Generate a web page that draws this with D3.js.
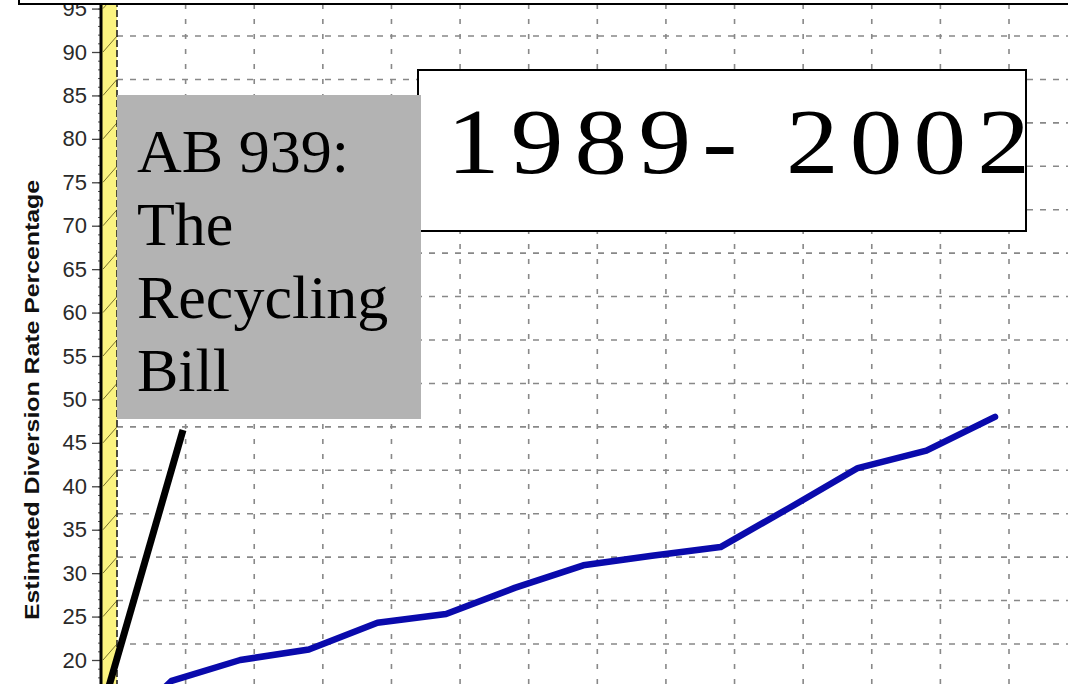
<!DOCTYPE html>
<html>
<head>
<meta charset="utf-8">
<script src="https://cdn.jsdelivr.net/npm/d3@7"></script>
<style>
  html, body { margin: 0; padding: 0; background: #fff; }
  svg { display: block; }
</style>
</head>
<body>
<svg id="chart" width="1068" height="684"></svg>
<script>
// ---- data ----
const years = [1989, 1990, 1991, 1992, 1993, 1994, 1995, 1996, 1997, 1998, 1999, 2000, 2001, 2002];
const diversionRate = [10, 17.6, 20.0, 21.2, 24.3, 25.3, 28.3, 30.9, 32.0, 33.0, 37.5, 42.1, 44.1, 48.0];
const yTicks = [20, 25, 30, 35, 40, 45, 50, 55, 60, 65, 70, 75, 80, 85, 90, 95];
const gridYears = [1990, 1991, 1992, 1993, 1994, 1995, 1996, 1997, 1998, 1999, 2000, 2001, 2002, 2003];
const yAxisTitle = "Estimated Diversion Rate Percentage";
const billLines = ["AB 939:", "The", "Recycling", "Bill"];
const periodLabel = "1989- 2002";

// ---- layout ----
const W = 1068, H = 684;
const svg = d3.select("#chart");
const x = d3.scaleLinear().domain([1989, 2002]).range([103, 995]);
const y = d3.scaleLinear().domain([20, 90]).range([660, 52]);
const depthX = 14, depthY = -16;   // 3D wall offset
const wallX = x(1989) + depthX;

svg.append("rect").attr("width", W).attr("height", H).attr("fill", "#fff");

// back-wall grid
const grid = svg.append("g");
grid.selectAll("line.h").data(yTicks.concat([15])).join("line")
  .attr("x1", wallX).attr("x2", W)
  .attr("y1", d => y(d) + depthY).attr("y2", d => y(d) + depthY)
  .attr("stroke", "#888").attr("stroke-width", 1.6).attr("stroke-dasharray", "6,7");
grid.selectAll("line.v").data(gridYears).join("line")
  .attr("x1", d => x(d) + depthX).attr("x2", d => x(d) + depthX)
  .attr("y1", 4).attr("y2", H)
  .attr("stroke", "#888").attr("stroke-width", 1.6).attr("stroke-dasharray", "5,10");

// side wall (yellow)
svg.append("rect").attr("x", x(1989) - 1).attr("y", 0)
  .attr("width", depthX + 1).attr("height", H).attr("fill", "#fbf380");
svg.append("g").selectAll("line").data(yTicks.concat([15])).join("line")
  .attr("x1", x(1989)).attr("y1", d => y(d))
  .attr("x2", wallX).attr("y2", d => y(d) + depthY)
  .attr("stroke", "#77702a").attr("stroke-width", 1);
svg.append("line").attr("x1", wallX).attr("x2", wallX).attr("y1", 0).attr("y2", H)
  .attr("stroke", "#222").attr("stroke-width", 1.6).attr("stroke-dasharray", "7,3");

// y axis
const axisG = svg.append("g").attr("transform", `translate(${x(1989) - 2},0)`);
axisG.call(d3.axisLeft(y).tickValues(d3.range(15, 96, 1)).tickFormat("").tickSize(3))
  .call(g => g.select(".domain").remove())
  .call(g => g.selectAll("line").attr("stroke", "#555"));
const majorG = svg.append("g").attr("transform", `translate(${x(1989) - 2},0)`);
majorG.call(d3.axisLeft(y).tickValues(yTicks).tickSize(9).tickPadding(5))
  .call(g => g.select(".domain").remove())
  .call(g => g.selectAll("line").attr("stroke", "#444").attr("stroke-width", 1.3))
  .call(g => g.selectAll("text")
    .attr("font-family", "Liberation Sans, Arial, sans-serif")
    .attr("font-size", 22).attr("fill", "#2a2a2a"));
svg.append("line").attr("x1", x(1989) - 2).attr("x2", x(1989) - 2)
  .attr("y1", 0).attr("y2", H).attr("stroke", "#000").attr("stroke-width", 3);

// data line
svg.append("path")
  .datum(years.map((yr, i) => [yr, diversionRate[i]]))
  .attr("fill", "none").attr("stroke", "#0a0aac").attr("stroke-width", 6.5)
  .attr("stroke-linejoin", "round").attr("stroke-linecap", "round")
  .attr("d", d3.line().x(d => x(d[0])).y(d => y(d[1])));

// period box
const pb = svg.append("g");
pb.append("rect").attr("x", 418).attr("y", 70).attr("width", 608).attr("height", 161)
  .attr("fill", "#fff").attr("stroke", "#000").attr("stroke-width", 2);
const sx = 1.12;
pb.append("text")
  .attr("transform", `scale(${sx},1)`)
  .attr("x", 447 / sx).attr("y", 173)
  .attr("font-family", "Liberation Serif, 'Times New Roman', serif")
  .attr("font-size", 94).attr("fill", "#000")
  .attr("textLength", 583 / sx).attr("lengthAdjust", "spacing")
  .text(periodLabel);

// bill box
const bb = svg.append("g");
bb.append("rect").attr("x", 117).attr("y", 95).attr("width", 304).attr("height", 324)
  .attr("fill", "#b3b3b3");
bb.selectAll("text").data(billLines).join("text")
  .attr("x", 137).attr("y", (d, i) => 172 + i * 73)
  .attr("font-family", "Liberation Serif, 'Times New Roman', serif")
  .attr("font-size", 62).attr("fill", "#000")
  .text(d => d);
svg.append("line").attr("x1", 183).attr("y1", 430).attr("x2", 105).attr("y2", 700)
  .attr("stroke", "#000").attr("stroke-width", 7);

// top box edge
svg.append("rect").attr("x", 19).attr("y", -10).attr("width", 1060).attr("height", 14)
  .attr("fill", "#fff").attr("stroke", "#000").attr("stroke-width", 2);

// y axis title
svg.append("text")
  .attr("transform", "translate(39,400) rotate(-90)")
  .attr("text-anchor", "middle")
  .attr("font-family", "'Liberation Sans Narrow', 'Liberation Sans', Arial, sans-serif")
  .attr("font-weight", "bold").attr("font-size", 21).attr("fill", "#111")
  .attr("textLength", 440).attr("lengthAdjust", "spacingAndGlyphs")
  .text(yAxisTitle);
</script>
</body>
</html>
